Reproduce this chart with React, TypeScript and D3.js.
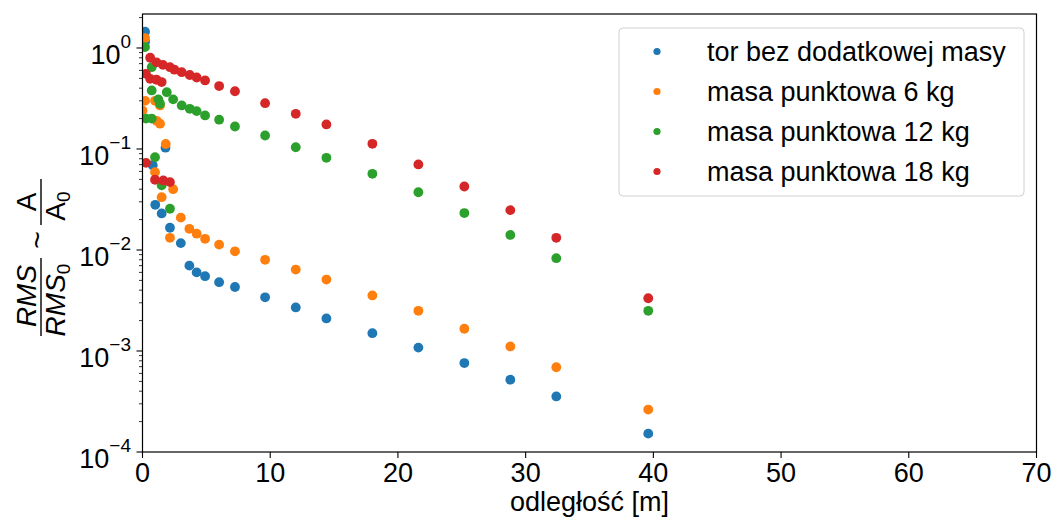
import React from "react";
import * as d3 from "d3";

// Distance along the track [m] and normalised amplitude for each configuration
const seriesNames = [
  "tor bez dodatkowej masy",
  "masa punktowa 6 kg",
  "masa punktowa 12 kg",
  "masa punktowa 18 kg",
];
const seriesColors = ["#1f77b4", "#ff7f0e", "#2ca02c", "#d62728"];

const blueX = [0.2, 0.2, 0.8, 1.0, 1.5, 1.8, 2.15, 3.0, 3.67, 4.24, 4.9, 6.0, 7.24, 9.6, 12, 14.4, 18, 21.6, 25.2, 28.8, 32.4, 39.6];
const blueY = [1.45, 1.15, 0.069, 0.028, 0.023, 0.103, 0.0166, 0.0117, 0.0070, 0.0060, 0.0055, 0.0048, 0.0043, 0.0034, 0.0027, 0.0021, 0.0015, 0.00108, 0.00076, 0.00052, 0.000355, 0.000152];

const orangeX = [0.2, 0.0, 0.2, 0.98, 1.37, 1.1, 1.37, 0.98, 1.5, 1.82, 2.4, 2.15, 3.0, 3.67, 4.24, 4.9, 6.0, 7.24, 9.6, 12, 14.4, 18, 21.6, 25.2, 28.8, 32.4, 39.6];
const orangeY = [1.25, 0.24, 0.3, 0.3, 0.27, 0.19, 0.178, 0.059, 0.0333, 0.112, 0.04, 0.0132, 0.0209, 0.0162, 0.0145, 0.0129, 0.0113, 0.0097, 0.008, 0.0064, 0.0051, 0.00355, 0.0025, 0.00166, 0.00111, 0.00069, 0.000263];

const greenX = [0.2, 0.72, 0.72, 1.9, 1.24, 1.37, 2.4, 3.07, 3.7, 4.24, 4.9, 6.0, 7.24, 0.27, 0.72, 0.98, 1.5, 2.15, 9.6, 12, 14.4, 18, 21.6, 25.2, 28.8, 32.4, 39.6];
const greenY = [1.02, 0.645, 0.38, 0.365, 0.31, 0.28, 0.31, 0.27, 0.25, 0.237, 0.215, 0.195, 0.167, 0.2, 0.2, 0.083, 0.0436, 0.0256, 0.136, 0.104, 0.0818, 0.0568, 0.0373, 0.0232, 0.0141, 0.0083, 0.0025];

const redX = [0.6, 1.1, 1.6, 2.15, 2.5, 3.07, 3.7, 4.24, 4.9, 6.0, 7.24, 0.27, 0.6, 1.1, 1.5, 0.27, 0.98, 1.63, 2.15, 9.6, 12, 14.4, 18, 21.6, 25.2, 28.8, 32.4, 39.6];
const redY = [0.8, 0.72, 0.68, 0.645, 0.61, 0.576, 0.54, 0.51, 0.477, 0.42, 0.373, 0.555, 0.495, 0.485, 0.46, 0.073, 0.0496, 0.0488, 0.047, 0.284, 0.223, 0.175, 0.1125, 0.0703, 0.0425, 0.0248, 0.0132, 0.00333];

const seriesX = [blueX, orangeX, greenX, redX];
const seriesY = [blueY, orangeY, greenY, redY];

const xTicks = [0, 10, 20, 30, 40, 50, 60, 70];
const yExponents = [0, -1, -2, -3, -4];

const W = 1054;
const H = 518;
const plot = { left: 142.5, right: 1036.5, top: 14, bottom: 452 };
const FONT = "'Liberation Sans', Arial, Helvetica, sans-serif";

export default function App() {
  const x = d3.scaleLinear().domain([0, 70]).range([plot.left, plot.right]);
  const y = d3.scaleLog().domain([1e-4, 2.17]).range([plot.bottom, plot.top]);

  const minorTicks: number[] = [];
  for (let e = -4; e <= 0; e++) {
    for (let m = 2; m <= 9; m++) {
      const v = m * Math.pow(10, e);
      if (v <= 2.17) minorTicks.push(v);
    }
  }

  const legendRows = [51.5, 91.5, 131.5, 171.5];

  return (
    <svg
      width={W}
      height={H}
      style={{ position: "absolute", left: 0, top: 0, background: "#fff" }}
      fontFamily={FONT}
    >
      <defs>
        <clipPath id="plotArea">
          <rect x={plot.left} y={plot.top} width={plot.right - plot.left} height={plot.bottom - plot.top} />
        </clipPath>
      </defs>

      {/* data */}
      <g clipPath="url(#plotArea)">
        {seriesX.map((xs, si) => (
          <g key={si} fill={seriesColors[si]}>
            {xs.map((xv, i) => (
              <circle key={i} cx={x(xv)} cy={y(seriesY[si][i])} r={4.9} />
            ))}
          </g>
        ))}
      </g>

      {/* frame */}
      <rect
        x={plot.left}
        y={plot.top}
        width={plot.right - plot.left}
        height={plot.bottom - plot.top}
        fill="none"
        stroke="#000"
        strokeWidth={1.2}
      />

      {/* x axis */}
      {xTicks.map((t) => (
        <g key={t}>
          <line x1={x(t)} x2={x(t)} y1={plot.bottom} y2={plot.bottom + 6} stroke="#000" strokeWidth={1.1} />
          <text x={x(t)} y={482} textAnchor="middle" fontSize={27} fill="#000">
            {t}
          </text>
        </g>
      ))}
      <text x={(plot.left + plot.right) / 2} y={511} textAnchor="middle" fontSize={27} fill="#000">
        odległość [m]
      </text>

      {/* y axis */}
      {minorTicks.map((v, i) => (
        <line key={i} x1={plot.left - 3.5} x2={plot.left} y1={y(v)} y2={y(v)} stroke="#000" strokeWidth={0.8} />
      ))}
      {yExponents.map((e) => {
        const yy = y(Math.pow(10, e));
        return (
          <g key={e}>
            <line x1={plot.left - 6} x2={plot.left} y1={yy} y2={yy} stroke="#000" strokeWidth={1.1} />
            <text x={131} y={yy + 16} textAnchor="end" fill="#000" fontSize={27}>
              10
              <tspan fontSize={19} dy={-16}>
                {e < 0 ? "\u2212" + Math.abs(e) : String(e)}
              </tspan>
            </text>
          </g>
        );
      })}

      {/* y label: RMS/RMS0 ~ A/A0 */}
      <g transform="translate(41,256) rotate(-90)" fill="#000">
        <text x={-40} y={-5} textAnchor="middle" fontSize={28} fontStyle="italic">RMS</text>
        <line x1={-80} x2={-2} y1={0} y2={0} stroke="#000" strokeWidth={1.4} />
        <text x={-44} y={24} textAnchor="middle" fontSize={28} fontStyle="italic">
          RMS
          <tspan fontSize={19} dy={5} fontStyle="normal">0</tspan>
        </text>
        <text x={16} y={6} textAnchor="middle" fontSize={30}>~</text>
        <text x={54} y={-5} textAnchor="middle" fontSize={28}>A</text>
        <line x1={31} x2={77} y1={0} y2={0} stroke="#000" strokeWidth={1.4} />
        <text x={50} y={24} textAnchor="middle" fontSize={28}>
          A
          <tspan fontSize={19} dy={5}>0</tspan>
        </text>
      </g>

      {/* legend */}
      <rect x={619} y={28} width={405} height={168} rx={4} fill="#fff" fillOpacity={0.8} stroke="#d0d0d0" strokeWidth={1} />
      {seriesNames.map((name, i) => (
        <g key={name}>
          <circle cx={657} cy={legendRows[i]} r={3.6} fill={seriesColors[i]} />
          <text x={707} y={legendRows[i] + 9.5} fontSize={27} fill="#000">
            {name}
          </text>
        </g>
      ))}
    </svg>
  );
}
